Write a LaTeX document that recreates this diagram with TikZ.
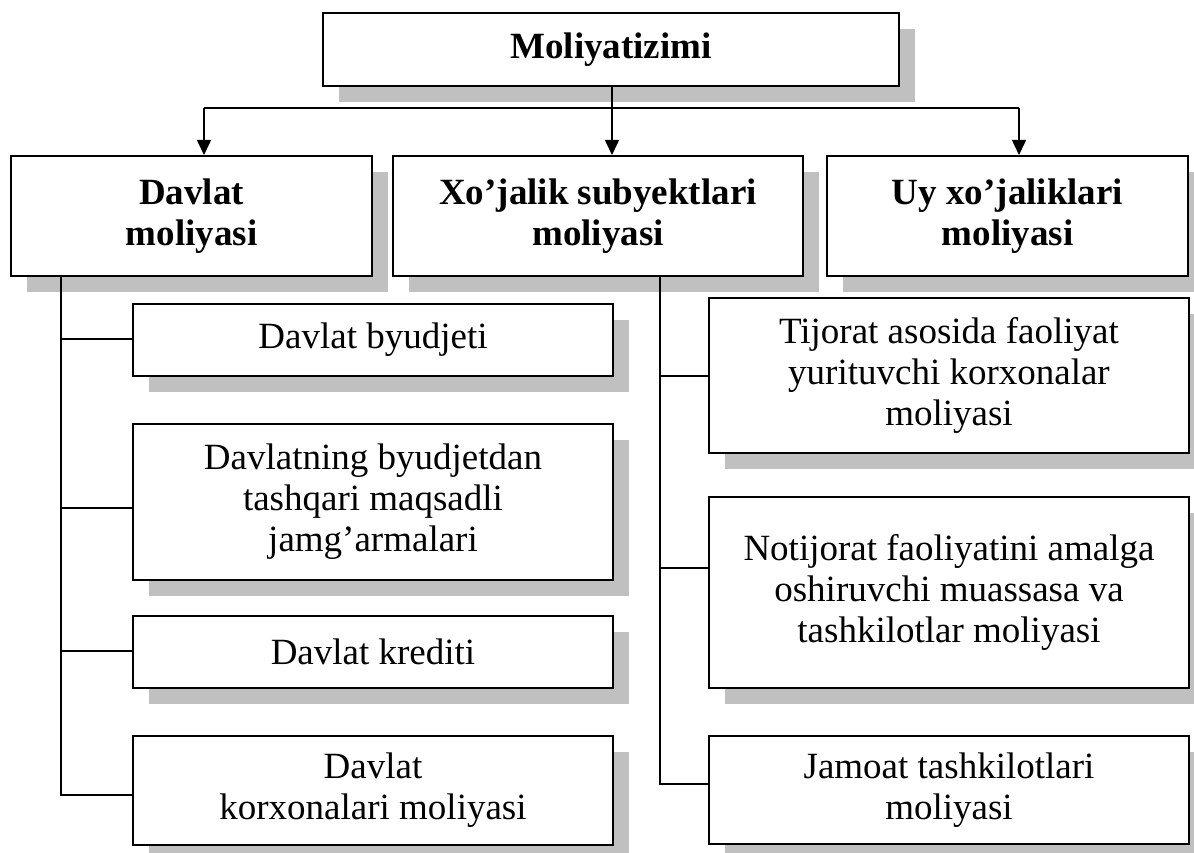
\documentclass[tikz,border=0pt]{standalone}
\usepackage{fontspec}
\setmainfont{Liberation Serif}
\usetikzlibrary{shadows,arrows.meta}
\definecolor{shade}{HTML}{C0C0C0}
\tikzset{
  box/.style={draw=black, line width=2pt, fill=white, align=center, inner sep=0pt,
    drop shadow={fill=shade, opacity=1, shadow xshift=16pt, shadow yshift=-16pt}},
  head/.style={box, font=\fontsize{37}{41}\selectfont\bfseries},
  item/.style={box, font=\fontsize{37}{41}\selectfont},
  link/.style={line width=1.6pt, draw=black},
  arr/.style={link, -{Triangle[length=15pt,width=14pt]}}
}
\begin{document}
\begin{tikzpicture}[x=1pt, y=-1pt]
\useasboundingbox (0,0) rectangle (1194,853);

% top level
\node[head, minimum width=576pt, minimum height=73pt] (sys) at (611,49.5) {Moliyatizimi};

% second level
\node[head, minimum width=361pt, minimum height=120pt] (davlat) at (191.5,216) {Davlat\\moliyasi};
\node[head, minimum width=410pt, minimum height=120pt] (xojalik) at (598,216) {Xo’jalik subyektlari\\moliyasi};
\node[head, minimum width=361pt, minimum height=120pt] (uy) at (1007.5,216) {Uy xo’jaliklari\\moliyasi};

% state finance branch
\node[item, minimum width=480pt, minimum height=72pt] (byudjet) at (373,340) {Davlat byudjeti};
\node[item, minimum width=480pt, minimum height=156pt] (fond) at (373,502) {Davlatning byudjetdan\\tashqari maqsadli\\jamg’armalari};
\node[item, minimum width=480pt, minimum height=72pt] (kredit) at (373,652) {Davlat krediti};
\node[item, minimum width=480pt, minimum height=109pt] (korxona) at (373,790.5) {\raisebox{-7pt}{\parbox{470pt}{\centering Davlat\\korxonalari moliyasi}}};

% business finance branch
\node[item, minimum width=480pt, minimum height=155pt] (tijorat) at (949,375.5) {\raisebox{-8pt}{\parbox{470pt}{\centering Tijorat asosida faoliyat\\yurituvchi korxonalar\\moliyasi}}};
\node[item, minimum width=480pt, minimum height=191pt] (notijorat) at (949,592.5) {Notijorat faoliyatini amalga\\oshiruvchi muassasa va\\tashkilotlar moliyasi};
\node[item, minimum width=480pt, minimum height=108pt] (jamoat) at (949,790) {\raisebox{-5pt}{\parbox{470pt}{\centering Jamoat tashkilotlari\\moliyasi}}};

% distribution bus under the top box
\coordinate (hub) at (612,108);
\coordinate (busL) at (204,108);
\coordinate (busR) at (1019,108);
\draw[link] (sys.south -| hub) -- (hub);
\draw[link] (busL) -- (busR);
\draw[arr] (busL) -- (busL |- davlat.north);
\draw[arr] (hub) -- (hub |- xojalik.north);
\draw[arr] (busR) -- (busR |- uy.north);

% left spine
\coordinate (ls) at (61,276);
\coordinate (ls1) at (61,339);
\coordinate (ls2) at (61,508);
\coordinate (ls3) at (61,651);
\coordinate (ls4) at (61,795);
\draw[link] (davlat.south -| ls) -- (ls4) -- (ls4 -| korxona.west);
\draw[link] (ls1) -- (ls1 -| byudjet.west);
\draw[link] (ls2) -- (ls2 -| fond.west);
\draw[link] (ls3) -- (ls3 -| kredit.west);

% right spine
\coordinate (rs) at (660,276);
\coordinate (rs1) at (660,376);
\coordinate (rs2) at (660,568);
\coordinate (rs3) at (660,784);
\draw[link] (xojalik.south -| rs) -- (rs3) -- (rs3 -| jamoat.west);
\draw[link] (rs1) -- (rs1 -| tijorat.west);
\draw[link] (rs2) -- (rs2 -| notijorat.west);
\end{tikzpicture}
\end{document}
